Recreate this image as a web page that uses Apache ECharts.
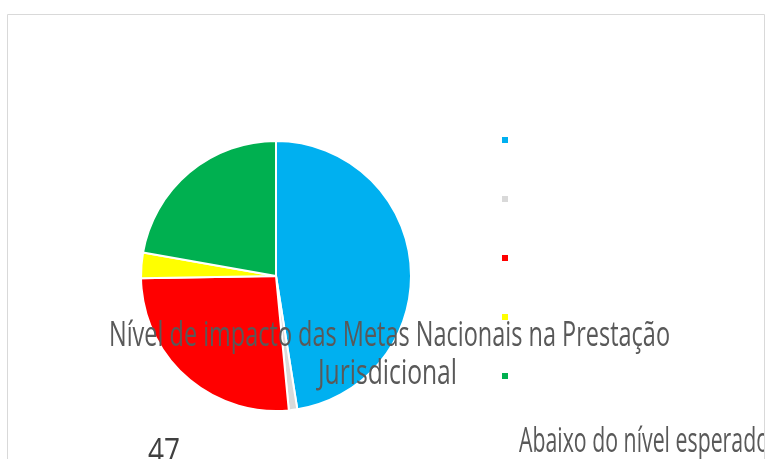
<!DOCTYPE html>
<html>
<head>
<meta charset="utf-8">
<script src="https://cdn.jsdelivr.net/npm/echarts@6/dist/echarts.min.js"></script>
<style>
  html, body { margin: 0; padding: 0; background: #fff; }
  #chart { width: 767px; height: 459px; }
</style>
</head>
<body>
<div id="chart"></div>
<script>
// categorias e valores
const categories = ['Acima do nível esperado', 'Não sabe', 'No nível esperado', 'Sem impacto', 'Abaixo do nível esperado'];
const values = [47, 1, 26, 3, 22];
const colors = ['#00b0f0', '#d9d9d9', '#ff0000', '#ffff00', '#00b050'];
const titleLines = ['Nível de impacto das Metas Nacionais na Prestação', 'Jurisdicional'];

const chart = echarts.init(document.getElementById('chart'));

// fonte estreita tipo Calibri: medir e comprimir na horizontal
const FONT = '"Open Sans", "Noto Sans", sans-serif';
const FSIZE = 34;
const ctx = document.createElement('canvas').getContext('2d');
ctx.font = FSIZE + 'px ' + FONT;

function txt(text, x, y, align, width, color) {
  return {
    type: 'text',
    x: x, y: y,
    z: 100,
    scaleX: width / ctx.measureText(text).width,
    silent: true,
    style: {
      text: text,
      font: FSIZE + 'px ' + FONT,
      fill: color || '#595959',
      align: align,
      verticalAlign: 'middle'
    }
  };
}

const pieData = categories.map((name, i) => ({
  name: name,
  value: values[i],
  itemStyle: { color: colors[i] }
}));

const option = {
  animation: false,
  legend: {
    orient: 'vertical',
    left: 500,
    top: 135,
    padding: 0,
    itemWidth: 8,
    itemHeight: 8,
    itemGap: 49,
    icon: 'rect',
    formatter: () => '',
    data: categories
  },
  series: [{
    type: 'pie',
    center: [276, 276],
    radius: 135,
    startAngle: 90,
    clockwise: true,
    label: { show: false },
    labelLine: { show: false },
    itemStyle: { borderColor: '#fff', borderWidth: 2 },
    data: pieData
  }],
  graphic: [
    txt(titleLines[0], 389.5, 336, 'center', 561),
    txt(titleLines[1], 387.5, 374, 'center', 139),
    txt(String(values[0]), 148, 453, 'left', 32, '#404040'),
    txt(categories[4], 519, 442, 'left', 250),
    {
      type: 'rect',
      z: 101,
      shape: { x: 765, y: 0, width: 10, height: 459 },
      style: { fill: '#fff' },
      silent: true
    },
    {
      type: 'rect',
      z: 101,
      shape: { x: 7.5, y: 14.5, width: 757, height: 460 },
      style: { fill: 'none', stroke: '#d9d9d9', lineWidth: 1 },
      silent: true
    }
  ]
};

chart.setOption(option);
</script>
</body>
</html>
